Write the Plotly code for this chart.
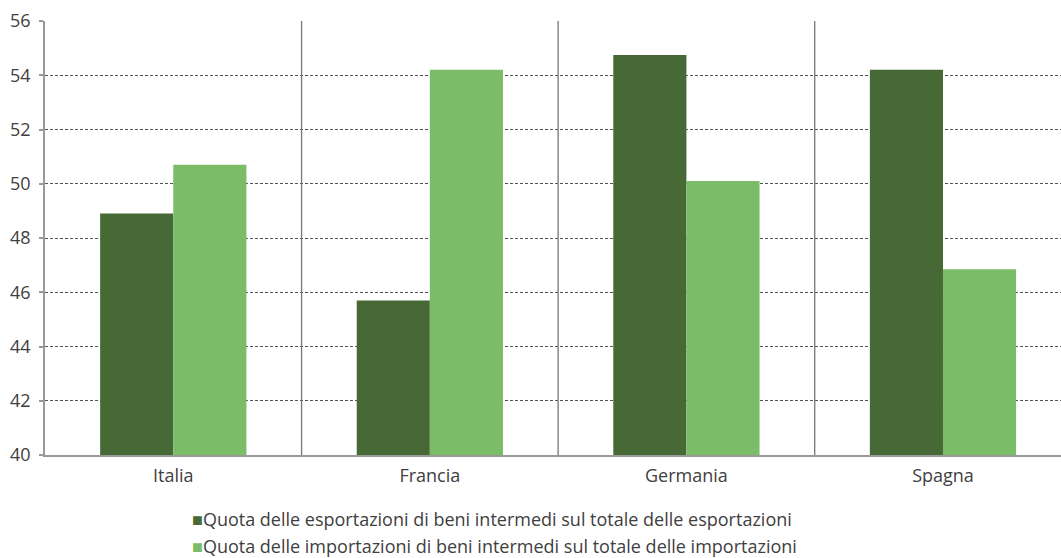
import plotly.graph_objects as go

categories = ["Italia", "Francia", "Germania", "Spagna"]
export_share = [48.9, 45.7, 54.75, 54.2]
import_share = [50.7, 54.2, 50.1, 46.85]
series_names = [
    "Quota delle esportazioni di beni intermedi sul totale delle esportazioni",
    "Quota delle importazioni di beni intermedi sul totale delle importazioni",
]
colors = ["#466935", "#7bbc69"]
y_ticks = [40, 42, 44, 46, 48, 50, 52, 54, 56]

FONT = "Open Sans"
fig = go.Figure()
for name, vals, col in zip(series_names, [export_share, import_share], colors):
    fig.add_trace(go.Bar(x=categories, y=vals, name=name, marker=dict(color=col, line=dict(width=0)),
                         showlegend=False))

# category separators
for i in range(len(categories) - 1):
    fig.add_shape(type="line", xref="x", yref="paper", x0=i + 0.5, x1=i + 0.5, y0=0, y1=1,
                  line=dict(color="#777777", width=1.3), layer="above")

# legend as annotations
for k, (name, col) in enumerate(zip(series_names, colors)):
    fig.add_annotation(xref="paper", yref="paper", x=0.143, y=-0.148 - k * 0.062, xanchor="left", yanchor="middle",
                       showarrow=False, align="left",
                       text=f"<span style='color:{col}'>■</span>{name}",
                       font=dict(family=FONT, size=18, color="#404040"))

fig.update_layout(
    width=1061, height=558,
    margin=dict(l=45, r=0, t=21, b=103),
    plot_bgcolor="white", paper_bgcolor="white",
    barmode="group", bargap=0.43, bargroupgap=0,
    font=dict(family=FONT, size=18, color="#404040"),
    xaxis=dict(range=[-0.5, 3.46], showline=True, linecolor="#999999", linewidth=1.5, ticks="", showgrid=False,
               tickfont=dict(size=18, color="#404040"), ticklabelstandoff=4),
    yaxis=dict(range=[40, 56], tickvals=y_ticks, showline=True, linecolor="#999999", linewidth=1.5,
               ticks="outside", ticklen=4, tickcolor="#999999", tickwidth=1.5,
               showgrid=True, gridcolor="#555555", gridwidth=1, griddash="3px,2px",
               zeroline=False, tickfont=dict(size=18, color="#404040"), ticklabelstandoff=5),
)
fig.write_html("out.html", config={"displayModeBar": False})

with open("out.html", "r", encoding="utf-8") as f:
    html = f.read()
html = html.replace("<head>", "<head><style>html,body{margin:0;padding:0;overflow:hidden;}</style>", 1)
with open("out.html", "w", encoding="utf-8") as f:
    f.write(html)
